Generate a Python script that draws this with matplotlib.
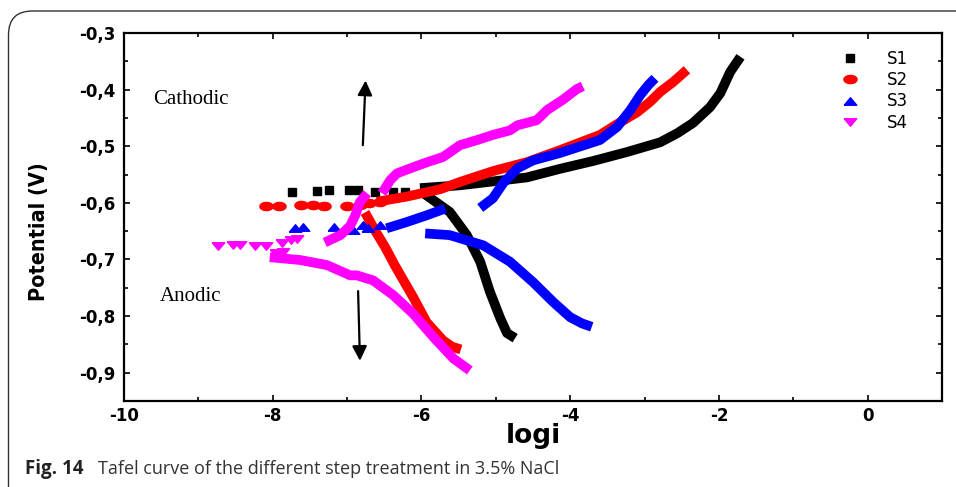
import numpy as np
import matplotlib
matplotlib.use("Agg")
import matplotlib.pyplot as plt
from matplotlib.patches import FancyBboxPatch
from matplotlib.ticker import MultipleLocator, FuncFormatter

# S1 : carres noirs (points isoles + branches continues)
s1_pts_x = [-7.74, -7.41, -7.25, -6.98, -6.85, -6.62, -6.38, -6.22]
s1_pts_y = [-0.581, -0.579, -0.578, -0.578, -0.578, -0.581, -0.581, -0.581]
s1_cat_x = [-6.02, -5.48, -4.58, -4.14, -3.69, -3.23, -2.79, -2.56, -2.35, -2.12, -1.98, -1.85, -1.71]
s1_cat_y = [-0.574, -0.569, -0.555, -0.540, -0.526, -0.510, -0.493, -0.477, -0.459, -0.431, -0.406, -0.369, -0.342]
s1_ano_x = [-6.02, -5.93, -5.62, -5.39, -5.21, -5.08, -4.94, -4.85, -4.74]
s1_ano_y = [-0.578, -0.587, -0.616, -0.657, -0.704, -0.757, -0.804, -0.830, -0.839]

# S2 : cercles rouges
s2_pts_x = [-8.09, -7.91, -7.62, -7.46, -7.31, -7.00, -6.83, -6.70, -6.56]
s2_pts_y = [-0.606, -0.606, -0.604, -0.604, -0.606, -0.606, -0.604, -0.601, -0.599]
s2_cat_x = [-6.60, -6.20, -5.75, -5.48, -5.04, -4.58, -4.14, -3.60, -3.37, -3.10, -2.93, -2.79, -2.62, -2.43]
s2_cat_y = [-0.598, -0.589, -0.576, -0.563, -0.544, -0.528, -0.507, -0.480, -0.461, -0.440, -0.422, -0.404, -0.387, -0.365]
s2_ano_x = [-6.76, -6.61, -6.49, -6.36, -6.22, -6.11, -5.93, -5.71, -5.59, -5.47]
s2_ano_y = [-0.617, -0.652, -0.678, -0.710, -0.742, -0.767, -0.811, -0.843, -0.854, -0.859]

# S3 : triangles bleus
s3_pts_x = [-7.70, -7.59, -7.18, -6.92, -6.78, -6.72, -6.56]
s3_pts_y = [-0.644, -0.643, -0.643, -0.648, -0.640, -0.645, -0.640]
s3_seg_x = [-6.47, -6.20, -5.93, -5.68]
s3_seg_y = [-0.645, -0.634, -0.622, -0.610]
s3_cat_x = [-5.21, -5.04, -4.90, -4.71, -4.50, -4.14, -3.60, -3.37, -3.19, -3.06, -2.95, -2.86]
s3_cat_y = [-0.609, -0.592, -0.565, -0.539, -0.525, -0.512, -0.489, -0.466, -0.436, -0.410, -0.392, -0.380]
s3_ano_x = [-5.95, -5.62, -5.17, -4.81, -4.50, -4.23, -4.00, -3.84, -3.71]
s3_ano_y = [-0.654, -0.657, -0.675, -0.704, -0.740, -0.775, -0.802, -0.813, -0.819]

# S4 : triangles magenta (pointe en bas)
s4_pts_x = [-8.74, -8.53, -8.44, -8.24, -8.09, -7.88, -7.75, -7.67, -7.96, -7.86]
s4_pts_y = [-0.677, -0.675, -0.675, -0.677, -0.677, -0.671, -0.666, -0.663, -0.689, -0.687]
s4_ano_x = [-8.04, -7.63, -7.27, -6.96, -6.87, -6.65, -6.38, -6.11, -5.84, -5.57, -5.35]
s4_ano_y = [-0.696, -0.701, -0.710, -0.728, -0.728, -0.737, -0.763, -0.796, -0.837, -0.875, -0.896]
s4_seg_x = [-7.30, -7.09, -6.96, -6.89, -6.83, -6.73]
s4_seg_y = [-0.670, -0.657, -0.641, -0.622, -0.599, -0.583]
s4_cat_x = [-6.53, -6.42, -6.33, -6.15, -5.92, -5.71, -5.48, -5.25, -5.04, -4.81, -4.71, -4.45, -4.31, -4.10, -3.91, -3.83]
s4_cat_y = [-0.583, -0.560, -0.548, -0.539, -0.528, -0.519, -0.498, -0.489, -0.480, -0.472, -0.463, -0.454, -0.436, -0.418, -0.399, -0.394]

labels = ["S1", "S2", "S3", "S4"]
colors = ["black", "red", "blue", "magenta"]

# marqueurs un peu etires en largeur comme sur la figure d'origine
t = np.linspace(0, 2 * np.pi, 40)
ellipse = list(zip(1.0 * np.cos(t), 0.62 * np.sin(t)))
tri_up = [(-1, -0.6), (1, -0.6), (0, 0.6), (-1, -0.6)]
tri_down = [(-1, 0.6), (1, 0.6), (0, -0.6), (-1, 0.6)]
markers = ["s", ellipse, tri_up, tri_down]
msizes = [6, 9.5, 9, 9]

fig = plt.figure(figsize=(9.56, 4.87), dpi=100)
ax = fig.add_axes([0.1297, 0.1766, 0.8557, 0.7556])

lw = 7
series = [
    (s1_pts_x, s1_pts_y, [(s1_cat_x, s1_cat_y), (s1_ano_x, s1_ano_y)]),
    (s2_pts_x, s2_pts_y, [(s2_cat_x, s2_cat_y), (s2_ano_x, s2_ano_y)]),
    (s3_pts_x, s3_pts_y, [(s3_seg_x, s3_seg_y), (s3_cat_x, s3_cat_y), (s3_ano_x, s3_ano_y)]),
    (s4_pts_x, s4_pts_y, [(s4_ano_x, s4_ano_y), (s4_seg_x, s4_seg_y), (s4_cat_x, s4_cat_y)]),
]
for i, (px, py, segs) in enumerate(series):
    c = colors[i]
    for sx, sy in segs:
        ax.plot(sx, sy, color=c, lw=lw, solid_capstyle="butt", solid_joinstyle="round")
    ax.plot(px, py, ls="none", marker=markers[i], ms=msizes[i], color=c, mec=c)
    # entree de legende seule
    ax.plot([], [], ls="none", marker=markers[i], ms=msizes[i], color=c, mec=c, label=labels[i])

ax.set_xlim(-10, 1)
ax.set_ylim(-0.95, -0.3)
ax.xaxis.set_major_locator(MultipleLocator(2))
ax.xaxis.set_minor_locator(MultipleLocator(1))
ax.yaxis.set_major_locator(MultipleLocator(0.1))
ax.yaxis.set_minor_locator(MultipleLocator(0.05))
ax.yaxis.set_major_formatter(FuncFormatter(lambda v, p: ("%.1f" % v).replace(".", ",")))
ax.xaxis.set_major_formatter(FuncFormatter(lambda v, p: "%d" % round(v)))
ax.tick_params(which="both", direction="in", top=True, right=True, width=1.2)
ax.tick_params(which="major", length=4, labelsize=12)
ax.tick_params(axis="x", which="major", pad=4)
ax.tick_params(axis="y", which="major", pad=6)
ax.tick_params(which="minor", length=3)
for lab in ax.get_xticklabels() + ax.get_yticklabels():
    lab.set_fontweight("bold")
for s in ax.spines.values():
    s.set_linewidth(1.6)

ax.set_xlabel("logi", fontsize=19, fontweight="bold", labelpad=-1)
ax.set_ylabel("Potential (V)", fontsize=15.5, fontweight="bold", fontstretch="condensed")
ax.yaxis.set_label_coords(-0.092, 0.459)

ax.text(-9.61, -0.418, "Cathodic", family="Liberation Serif", fontsize=15, ha="left", va="center")
ax.text(-9.52, -0.765, "Anodic", family="Liberation Serif", fontsize=15, ha="left", va="center")
ax.annotate("", xy=(-6.75, -0.379), xytext=(-6.79, -0.503),
            arrowprops=dict(arrowstyle="-|>", color="black", lw=1.6, mutation_scale=22))
ax.annotate("", xy=(-6.826, -0.884), xytext=(-6.853, -0.751),
            arrowprops=dict(arrowstyle="-|>", color="black", lw=1.6, mutation_scale=22))

leg = ax.legend(loc="upper left", bbox_to_anchor=(0.872, 0.915), bbox_transform=fig.transFigure,
                frameon=False, fontsize=12, handlelength=1.0, handletextpad=1.7,
                labelspacing=0.2, borderpad=0)

# cadre arrondi autour de la figure
W, H = 956, 487
frame = FancyBboxPatch((8.5 / W, -0.1), 1.2, (H - 11) / H + 0.1,
                       boxstyle="round,pad=0,rounding_size=0.025", transform=fig.transFigure,
                       fill=False, edgecolor="#333333", lw=1.0, mutation_aspect=W / H)
fig.patches.append(frame)

fig.text(25 / W, 1 - 469 / H, "Fig. 14", family="Open Sans", fontweight="bold", fontsize=13.5,
         va="center", ha="left", color="#222222")
fig.text(98 / W, 1 - 469 / H, "Tafel curve of the different step treatment in 3.5% NaCl",
         family="Open Sans", fontsize=13, va="center", ha="left", color="#333333")

fig.savefig("out.png", dpi=100)
